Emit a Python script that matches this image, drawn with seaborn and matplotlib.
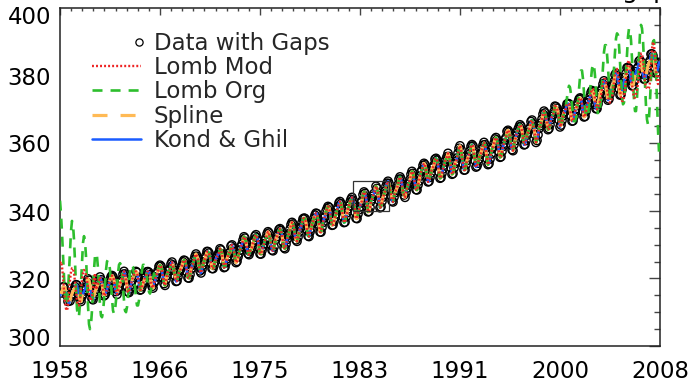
import numpy as np
import matplotlib
matplotlib.use("Agg")
import matplotlib.pyplot as plt
import matplotlib.transforms as mtransforms
from matplotlib.lines import Line2D
from matplotlib.patches import Rectangle
from matplotlib.legend_handler import HandlerLine2D
from matplotlib.ticker import MultipleLocator, AutoMinorLocator
import seaborn as sns

# ---------------------------------------------------------------------------
# Monthly CO2 (ppm) at Mauna Loa, Jan 1958 - Dec 2007; None marks a gap
# ---------------------------------------------------------------------------
co2_1958_1959 = [
    None, None, 315.71, 317.45, 317.50, None, 315.86, 314.93, 313.20, None, 313.33, 314.67,
    315.42, 316.31, 316.50, 317.56, 318.13, 318.00, 316.39, 314.65, 313.68, 313.18, 314.66, 315.43,
]
co2_1960s = [
    316.27, 316.81, 317.42, 318.87, 319.87, 319.43, 318.01, 315.74, 314.00, 313.68, 314.84, 316.03,
    316.73, 317.54, 318.38, 319.31, 320.42, 319.61, 318.42, 316.63, 314.83, 315.16, 315.94, 316.85,
    317.78, 318.40, 319.53, 320.42, 320.85, 320.45, 319.45, 317.25, 316.11, 315.27, 316.53, 317.53,
    318.58, 318.92, 319.70, 321.22, 322.08, 321.31, 319.58, 317.61, 316.05, 315.83, 316.91, 318.20,
    319.41, None, None, None, 322.06, 321.73, 320.27, 318.54, 316.54, 316.71, 317.53, 318.55,
    319.27, 320.28, 320.73, 321.97, 322.00, 321.71, 321.05, 318.71, 317.66, 317.14, 318.70, 319.25,
    320.46, 321.43, 322.23, 323.54, 323.91, 323.59, 322.24, 320.20, 318.48, 317.94, 319.63, 320.87,
    322.17, 322.34, 322.88, 324.25, 324.83, 323.93, 322.38, 320.76, 319.10, 319.24, 320.56, 321.80,
    322.40, 322.99, 323.73, 324.86, 325.40, 325.20, 323.98, 321.95, 320.18, 320.09, 321.16, 322.74,
    323.83, 324.26, 325.47, 326.50, 327.21, 326.54, 325.72, 323.50, 322.22, 321.62, 322.69, 323.95,
]
co2_1970s = [
    324.89, 325.82, 326.77, 327.97, 327.91, 327.50, 326.18, 324.53, 322.93, 322.90, 323.85, 324.96,
    326.01, 326.51, 327.01, 327.62, 328.76, 328.40, 327.20, 325.27, 323.20, 323.40, 324.63, 325.85,
    326.60, 327.47, 327.58, 329.56, 329.90, 328.92, 327.88, 326.16, 324.68, 325.04, 326.34, 327.39,
    328.37, 329.40, 330.14, 331.33, 332.31, 331.90, 330.70, 329.15, 327.35, 327.02, 327.99, 328.48,
    329.18, 330.55, 331.32, 332.48, 332.92, 332.08, 331.01, 329.23, 327.27, 327.21, 328.29, 329.41,
    330.23, 331.25, 331.87, 333.14, 333.80, 333.43, 331.73, 329.90, 328.40, 328.17, 329.32, None,
    331.58, 332.39, 333.33, 334.41, 334.71, 334.17, 332.89, 330.77, 329.14, 328.78, 330.14, 331.52,
    332.75, 333.24, 334.53, 335.90, 336.57, 336.10, 334.76, 332.59, 331.42, 330.98, 332.24, 333.68,
    334.80, 335.22, 336.47, 337.59, 337.84, 337.72, 336.37, 334.51, 332.60, 332.38, 333.75, 334.78,
    336.05, 336.59, 337.79, 338.71, 339.30, 339.12, 337.56, 335.92, 333.75, 333.70, 335.12, 336.56,
]
co2_1980s = [
    337.84, 338.19, 339.91, 340.60, 341.29, 341.00, 339.39, 337.43, 335.72, 335.84, 336.93, 338.04,
    339.06, 340.30, 341.21, 342.33, 342.74, 342.08, 340.32, 338.26, 336.52, 336.68, 338.19, 339.44,
    340.57, 341.44, 342.53, 343.39, 343.96, 343.18, 341.88, 339.65, 337.81, 337.69, 339.09, 340.32,
    341.20, 342.35, 342.93, 344.77, 345.58, 345.14, 343.81, 342.21, 339.69, 339.82, 340.98, 342.82,
    343.52, 344.33, 345.11, None, 347.25, 346.62, 345.22, 343.11, 340.90, 341.18, 342.80, 344.04,
    344.79, 345.82, 347.25, 348.17, 348.74, 348.07, 346.38, 344.51, 342.92, 342.62, 344.06, 345.38,
    346.11, 346.78, 347.68, 349.37, 350.03, 349.37, 347.76, 345.73, 344.68, 343.99, 345.48, 346.72,
    347.84, 348.29, 349.23, 350.80, 351.66, 351.07, 349.33, 347.92, 346.27, 346.18, 347.64, 348.78,
    350.25, 351.54, 352.05, 353.41, 354.04, 353.62, 352.22, 350.27, 348.55, 348.72, 349.91, 351.18,
    352.60, 352.92, 353.53, 355.26, 355.52, 354.97, 353.75, 351.52, 349.64, 349.83, 351.14, 352.37,
]
co2_1990s = [
    353.50, 354.55, 355.23, 356.04, 357.00, 356.07, 354.67, 352.76, 350.82, 351.04, 352.69, 353.99,
    354.59, 355.63, 357.03, 358.48, 359.22, 358.12, 356.06, 353.92, 352.05, 352.11, 353.64, 354.89,
    355.88, 356.63, 357.72, 359.07, 359.58, 359.17, 356.94, 354.92, 352.94, 353.23, 354.09, 355.33,
    356.63, 357.10, 358.32, 359.41, 360.23, 359.55, 357.53, 355.48, 353.67, 353.95, 355.30, 356.78,
    358.34, 358.89, 359.95, 361.25, 361.67, 360.94, 359.55, 357.49, 355.84, 356.00, 357.59, 359.05,
    359.98, 361.03, 361.66, 363.48, 363.82, 363.30, 361.94, 359.50, 358.11, 357.80, 359.61, 360.74,
    362.09, 363.29, 364.06, 364.76, 365.45, 365.01, 363.70, 361.54, 359.51, 359.65, 360.80, 362.38,
    363.23, 364.06, 364.61, 366.40, 366.84, 365.68, 364.52, 362.57, 360.24, 360.83, 362.49, 364.34,
    365.18, 365.98, 367.13, 368.61, 369.49, 368.95, 367.74, 365.79, 364.01, 364.35, 365.52, 366.98,
    367.92, 368.49, 369.33, 370.96, 370.77, 370.32, 369.31, 366.91, 364.81, 365.37, 366.72, 368.10,
]
co2_2000s = [
    369.08, 369.40, 370.45, 371.59, 371.75, 371.62, 370.04, 368.04, 366.54, 366.63, 367.93, 369.21,
    370.21, 371.17, 372.11, 372.99, 373.39, 373.10, 371.55, 369.34, 367.77, 367.95, 369.42, 370.82,
    371.98, 372.70, 373.72, 374.97, 375.57, 375.25, 373.87, 371.45, 370.20, 370.24, 371.60, 373.03,
    374.64, 375.47, 376.15, 377.51, 378.45, 377.84, 376.34, 374.19, 372.73, 373.08, 374.53, 375.78,
    376.91, 377.48, 378.23, 380.22, 380.67, 379.84, 378.40, 376.21, 374.25, 374.39, 375.84, 377.42,
    378.28, 379.49, 380.62, 382.32, 382.44, 382.16, 380.60, 378.59, 376.97, 377.08, 378.31, 379.91,
    381.16, 382.02, 382.41, 384.23, 384.54, 383.92, 382.18, 380.39, 378.97, 378.98, 380.11, 381.62,
    382.88, 383.79, 384.41, 386.35, 386.41, 385.86, 384.42, 381.77, 380.74, 381.05, 382.30, 383.92,
]

# Months (index from Jan 1958) with no measurement, and what each method puts there
gap_months = [0, 1, 5, 9, 73, 74, 75, 215, 315]
spline_fill = [316.2, 315.9, 317.3, 312.9, 320.3, 320.9, 321.5, 331.0, 346.3]
kondghil_fill = [314.9, 315.3, 317.0, 312.6, 320.0, 320.8, 321.7, 330.7, 346.6]
lomb_mod_gap_months = [73, 74, 75, 215, 315]
lomb_mod_fill = [320.5, 321.2, 322.0, 331.3, 346.0]
lomb_org_gap_months = [215, 315]
lomb_org_fill = [330.4, 346.9]

# Lomb (modified): record start 1958-1960 and end 2002-2007
lomb_mod_head = [
    324.5, 325.0, 323.5, 320.5, 316.5, 313.0, 311.0, 310.5, 312.0, 315.5, 319.5, 322.0,
    323.0, 323.0, 321.5, 319.0, 316.0, 313.5, 312.0, 312.0, 313.5, 316.5, 319.5, 321.5,
    322.5, 322.0, 321.0, 319.5, 317.5, 315.5, 314.0, 313.5, 314.5, 317.0, 319.5, 321.5,
]
lomb_mod_tail = [
    372.0, 372.5, 373.5, 375.0, 376.0, 376.0, 375.0, 373.0, 371.0, 370.0, 370.5, 371.5,
    372.5, 374.0, 376.0, 378.0, 379.0, 379.0, 378.0, 376.0, 374.0, 372.5, 372.0, 372.5,
    373.5, 375.5, 378.0, 380.5, 382.0, 382.0, 380.5, 378.0, 375.5, 373.5, 372.5, 372.5,
    373.5, 376.0, 379.0, 382.0, 384.0, 384.5, 383.0, 380.5, 377.5, 375.0, 373.5, 373.5,
    374.5, 376.0, 377.5, 380.5, 384.0, 386.5, 386.5, 384.5, 381.0, 378.0, 376.5, 376.5,
    376.0, 376.3, 378.0, 383.0, 388.0, 390.0, 389.0, 386.0, 382.0, 379.0, 377.5, 380.0,
]

# Lomb (original): record start 1958-1965 and end 2000-2007
lomb_org_head = [
    343.0, 339.0, 333.5, 327.0, 320.5, 315.0, 312.0, 312.5, 316.0, 322.0, 328.5, 334.0,
    337.0, 336.0, 331.5, 325.0, 317.5, 311.0, 308.5, 309.0, 312.5, 318.5, 325.0, 330.5,
    332.5, 331.0, 326.5, 319.5, 312.0, 306.5, 305.0, 306.5, 310.5, 316.5, 322.5, 326.5,
    327.5, 326.5, 323.0, 317.5, 312.0, 309.0, 308.5, 310.0, 313.5, 318.0, 322.5, 325.0,
    325.5, 325.0, 322.5, 318.5, 314.0, 310.5, 309.5, 310.5, 313.5, 317.5, 321.5, 324.0,
    324.5, 324.0, 321.5, 317.5, 313.5, 310.5, 310.0, 311.5, 314.5, 318.5, 322.0, 324.0,
    324.0, 323.5, 321.0, 317.5, 314.0, 312.0, 312.0, 313.5, 316.5, 319.5, 322.5, 324.0,
    324.0, 323.5, 322.0, 320.0, 317.5, 316.0, 315.5, 316.5, 318.0, 320.0, 321.5, 321.0,
]
lomb_org_tail = [
    368.5, 369.5, 371.5, 373.5, 375.5, 377.0, 376.5, 374.5, 371.5, 368.5, 366.5, 366.5,
    367.5, 369.5, 372.5, 376.0, 379.5, 381.5, 381.5, 379.0, 375.0, 371.0, 368.0, 367.5,
    368.5, 371.0, 375.0, 379.0, 382.0, 383.5, 383.0, 380.0, 375.5, 371.0, 368.5, 368.5,
    370.0, 373.5, 378.0, 383.0, 387.0, 389.0, 389.0, 386.5, 382.0, 377.0, 373.5, 372.5,
    373.5, 377.0, 382.0, 387.0, 391.0, 392.5, 392.0, 389.0, 384.0, 378.5, 374.0, 371.5,
    372.0, 375.5, 381.0, 387.0, 391.5, 394.0, 393.5, 390.5, 385.0, 378.5, 373.0, 369.5,
    369.5, 373.5, 380.0, 387.0, 392.5, 395.0, 394.0, 390.5, 384.0, 377.0, 371.0, 367.0,
    365.5, 367.5, 372.5, 379.5, 386.0, 390.0, 390.5, 387.5, 381.0, 372.5, 364.0, 357.5,
]

# Axis labelling
year_labels = ["1958", "1966", "1975", "1983", "1991", "2000", "2008"]
year_tick_months = [0, 100, 200, 300, 400, 500, 600]
ppm_ticks = [300, 320, 340, 360, 380, 400]

# Highlighted window (months, ppm)
box_months = (293, 329)
box_ppm = (339.8, 348.8)

# ---------------------------------------------------------------------------
observed = np.array(
    [np.nan if v is None else v
     for v in co2_1958_1959 + co2_1960s + co2_1970s + co2_1980s + co2_1990s + co2_2000s],
    dtype=float,
)
months = np.arange(observed.size)


def reconstruction(fill_months, fill_values, head=None, tail=None):
    series = observed.copy()
    series[fill_months] = fill_values
    if head is not None:
        series[:len(head)] = head
    if tail is not None:
        series[series.size - len(tail):] = tail
    return series


spline = reconstruction(gap_months, spline_fill)
kond_ghil = reconstruction(gap_months, kondghil_fill)
lomb_mod = reconstruction(lomb_mod_gap_months, lomb_mod_fill, lomb_mod_head, lomb_mod_tail)
lomb_org = reconstruction(lomb_org_gap_months, lomb_org_fill, lomb_org_head, lomb_org_tail)

# ---------------------------------------------------------------------------
sns.set_style("white")
plt.rcParams["font.family"] = ["DejaVu Sans"]
plt.rcParams["lines.scale_dashes"] = False

FS = 16.5

C_RED = "#EE2424"
C_GREEN = "#2DBE2D"
C_ORANGE = "#FFBA55"
C_BLUE = "#1A5CFF"

LS_RED = (0, (1.4, 1.5))
LS_GREEN = (0, (7.2, 5.8))
LS_ORANGE = (0, (10.8, 9.4))

fig = plt.figure(figsize=(6.9, 3.86), dpi=100)
ax = fig.add_axes([60 / 690, 1 - 346 / 386, 600 / 690, 338 / 386])

sns.scatterplot(x=months, y=observed, ax=ax, marker="o", s=36,
                facecolors="none", edgecolor="black", linewidth=1.0, zorder=2)
sns.lineplot(x=months, y=kond_ghil, ax=ax, color=C_BLUE, lw=1.8,
             errorbar=None, zorder=3)
sns.lineplot(x=months, y=spline, ax=ax, color=C_ORANGE, lw=2.3,
             linestyle=LS_ORANGE, errorbar=None, zorder=4)
sns.lineplot(x=months, y=lomb_org, ax=ax, color=C_GREEN, lw=1.9,
             linestyle=LS_GREEN, errorbar=None, zorder=5)
sns.lineplot(x=months, y=lomb_mod, ax=ax, color=C_RED, lw=1.7,
             linestyle=LS_RED, errorbar=None, zorder=6)

ax.add_patch(Rectangle((box_months[0], box_ppm[0]),
                       box_months[1] - box_months[0], box_ppm[1] - box_ppm[0],
                       fill=False, edgecolor="#333333", lw=0.9, zorder=7))

ax.set_xlim(0, 600)
ax.set_ylim(300, 400)
ax.set_xlabel("")
ax.set_ylabel("")

ax.set_xticks(year_tick_months)
ax.set_xticklabels(year_labels)
ax.xaxis.set_minor_locator(AutoMinorLocator(9))
ax.set_yticks(ppm_ticks)
ax.yaxis.set_minor_locator(MultipleLocator(5))

ax.tick_params(axis="both", which="both", direction="in", top=True, right=True,
               color="#444444", width=1.0)
ax.tick_params(axis="x", which="major", length=5.0, labelsize=FS, pad=10,
               labelcolor="black")
ax.tick_params(axis="x", which="minor", length=2.5)
ax.tick_params(axis="y", which="major", length=8.0, labelleft=False)
ax.tick_params(axis="y", which="minor", length=4.0)

for side in ax.spines.values():
    side.set_visible(True)
    side.set_color("#222222")
    side.set_linewidth(1.1)

# y labels: IDL-style placement, end labels pulled inside the axis range
label_shift_px = {300: -0.5, 320: 10.0, 340: 10.0, 360: 9.0, 380: 9.0, 400: 16.0}
for v in ppm_ticks:
    off = mtransforms.ScaledTranslation(-9 / 100, -label_shift_px[v] / 100,
                                        fig.dpi_scale_trans)
    ax.text(0, v, str(v), transform=ax.get_yaxis_transform() + off,
            ha="right", va="baseline", fontsize=FS, color="black")


class RightMarkerHandler(HandlerLine2D):
    def get_xdata(self, legend, xdescent, ydescent, width, height, fontsize):
        x = width - xdescent - 1.5
        return np.array([x]), np.array([x])


h_data = Line2D([], [], ls="none", marker="o", ms=5.2, mfc="none",
                mec="black", mew=0.9)
h_mod = Line2D([], [], color=C_RED, lw=1.7, ls=LS_RED)
h_org = Line2D([], [], color=C_GREEN, lw=1.9, ls=LS_GREEN)
h_spl = Line2D([], [], color=C_ORANGE, lw=2.3, ls=LS_ORANGE)
h_kg = Line2D([], [], color=C_BLUE, lw=1.8)

ax.legend([h_data, h_mod, h_org, h_spl, h_kg],
          ["Data with Gaps", "Lomb Mod", "Lomb Org", "Spline", "Kond & Ghil"],
          handler_map={h_data: RightMarkerHandler(numpoints=1)},
          loc="upper left", bbox_to_anchor=(0.0533, 0.93), borderaxespad=0,
          borderpad=0, frameon=False, fontsize=FS, handlelength=2.14,
          handletextpad=0.55, labelspacing=0.06, numpoints=1)

fig.text(682 / 690, 1 + 2 / 386, "Mauna Loa CO2 with gaps", ha="right",
         va="baseline", fontsize=18, color="black")

fig.savefig("out.png", dpi=100, facecolor="white")
